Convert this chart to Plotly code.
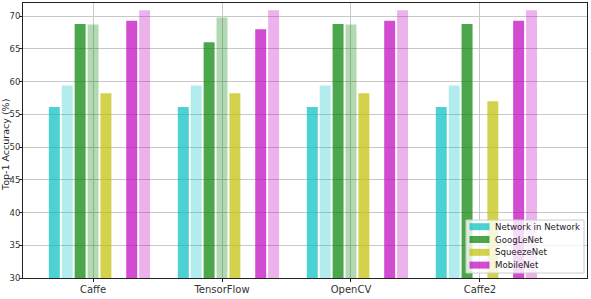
import plotly.graph_objects as go

frameworks = ["Caffe", "TensorFlow", "OpenCV", "Caffe2"]
nin_orig = [56.1, 56.1, 56.1, 56.1]
nin_alt = [59.4, 59.4, 59.4, 59.4]
goog_orig = [68.8, 66.0, 68.8, 68.8]
goog_alt = [68.7, 69.8, 68.7, None]
squeeze_orig = [58.2, 58.2, 58.2, 57.0]
mobile_orig = [69.3, 68.0, 69.3, 69.3]
mobile_alt = [70.9, 70.9, 70.9, 70.9]

GROUP = 10
BAR_W = 0.85

series = [
    ("Network in Network", nin_orig, 0, "rgba(0,191,191,0.7)", True),
    ("Network in Network", nin_alt, 1, "rgba(0,191,191,0.3)", False),
    ("GoogLeNet", goog_orig, 2, "rgba(0,128,0,0.7)", True),
    ("GoogLeNet", goog_alt, 3, "rgba(0,128,0,0.3)", False),
    ("SqueezeNet", squeeze_orig, 4, "rgba(191,191,0,0.7)", True),
    ("MobileNet", mobile_orig, 6, "rgba(191,0,191,0.7)", True),
    ("MobileNet", mobile_alt, 7, "rgba(191,0,191,0.3)", False),
]

fig = go.Figure()
for name, vals, slot, color, show in series:
    xs = [i * GROUP + slot for i in range(len(frameworks))]
    fig.add_trace(go.Bar(
        x=xs, y=vals, name=name, width=BAR_W,
        marker=dict(color=color, line=dict(width=0)),
        showlegend=False,
    ))

# custom compact legend (matplotlib-like)
W, H = 591, 299
L, R, T, B = 23, 4, 3, 21
pw, ph = W - L - R, H - T - B
def px(x):
    return (x - L) / pw
def py(y):
    return (H - B - y) / ph

shapes = [dict(type="rect", xref="paper", yref="paper", layer="above",
               x0=px(466), x1=px(584), y0=py(273), y1=py(220),
               fillcolor="rgba(255,255,255,0.8)", line=dict(color="#cccccc", width=1))]
annotations = []
legend_items = [(n, c) for n, _, _, c, s in series if s]
row_y = [226.7, 239.5, 252.3, 265.1]
for (name, color), yc in zip(legend_items, row_y):
    shapes.append(dict(type="rect", xref="paper", yref="paper", layer="above",
                       x0=px(469.5), x1=px(489.5), y0=py(yc + 3.5), y1=py(yc - 3.5),
                       fillcolor=color, line=dict(width=0)))
    annotations.append(dict(xref="paper", yref="paper", x=px(493), y=py(yc),
                            xanchor="left", yanchor="middle", showarrow=False,
                            text=name, font=dict(size=8.6, color="#222")))

# y-axis title
annotations.append(dict(xref="paper", yref="paper", x=px(5), y=py(145),
                        xanchor="center", yanchor="middle", showarrow=False,
                        textangle=-90, text="Top-1 Accuracy (%)",
                        font=dict(size=9.5, color="#222")))

fig.update_layout(
    width=W, height=H,
    margin=dict(l=L, r=R, t=T, b=B),
    plot_bgcolor="white", paper_bgcolor="white",
    font=dict(family="DejaVu Sans", size=9.5, color="#333"),
    barmode="overlay",
    showlegend=False,
    shapes=shapes,
    annotations=annotations,
)
fig.update_xaxes(
    range=[-2.43, 41.3],
    tickvals=[i * GROUP + 3 for i in range(len(frameworks))],
    ticktext=frameworks,
    showgrid=True, gridcolor="#c8c8c8", gridwidth=1,
    showline=True, linecolor="#222", linewidth=1, mirror=True,
    ticks="outside", ticklen=3, tickcolor="#222", zeroline=False, automargin=False,
    ticklabelstandoff=-1, tickfont=dict(size=10),
)
fig.update_yaxes(
    range=[30, 72],
    tickvals=[30, 35, 40, 45, 50, 55, 60, 65, 70],
    showgrid=True, gridcolor="#c8c8c8", gridwidth=1,
    showline=True, linecolor="#222", linewidth=1, mirror=True,
    ticks="outside", ticklen=3, tickcolor="#222", zeroline=False, automargin=False,
    ticklabelstandoff=-3, tickfont=dict(size=8.5),
)

fig.write_html("out.html")
